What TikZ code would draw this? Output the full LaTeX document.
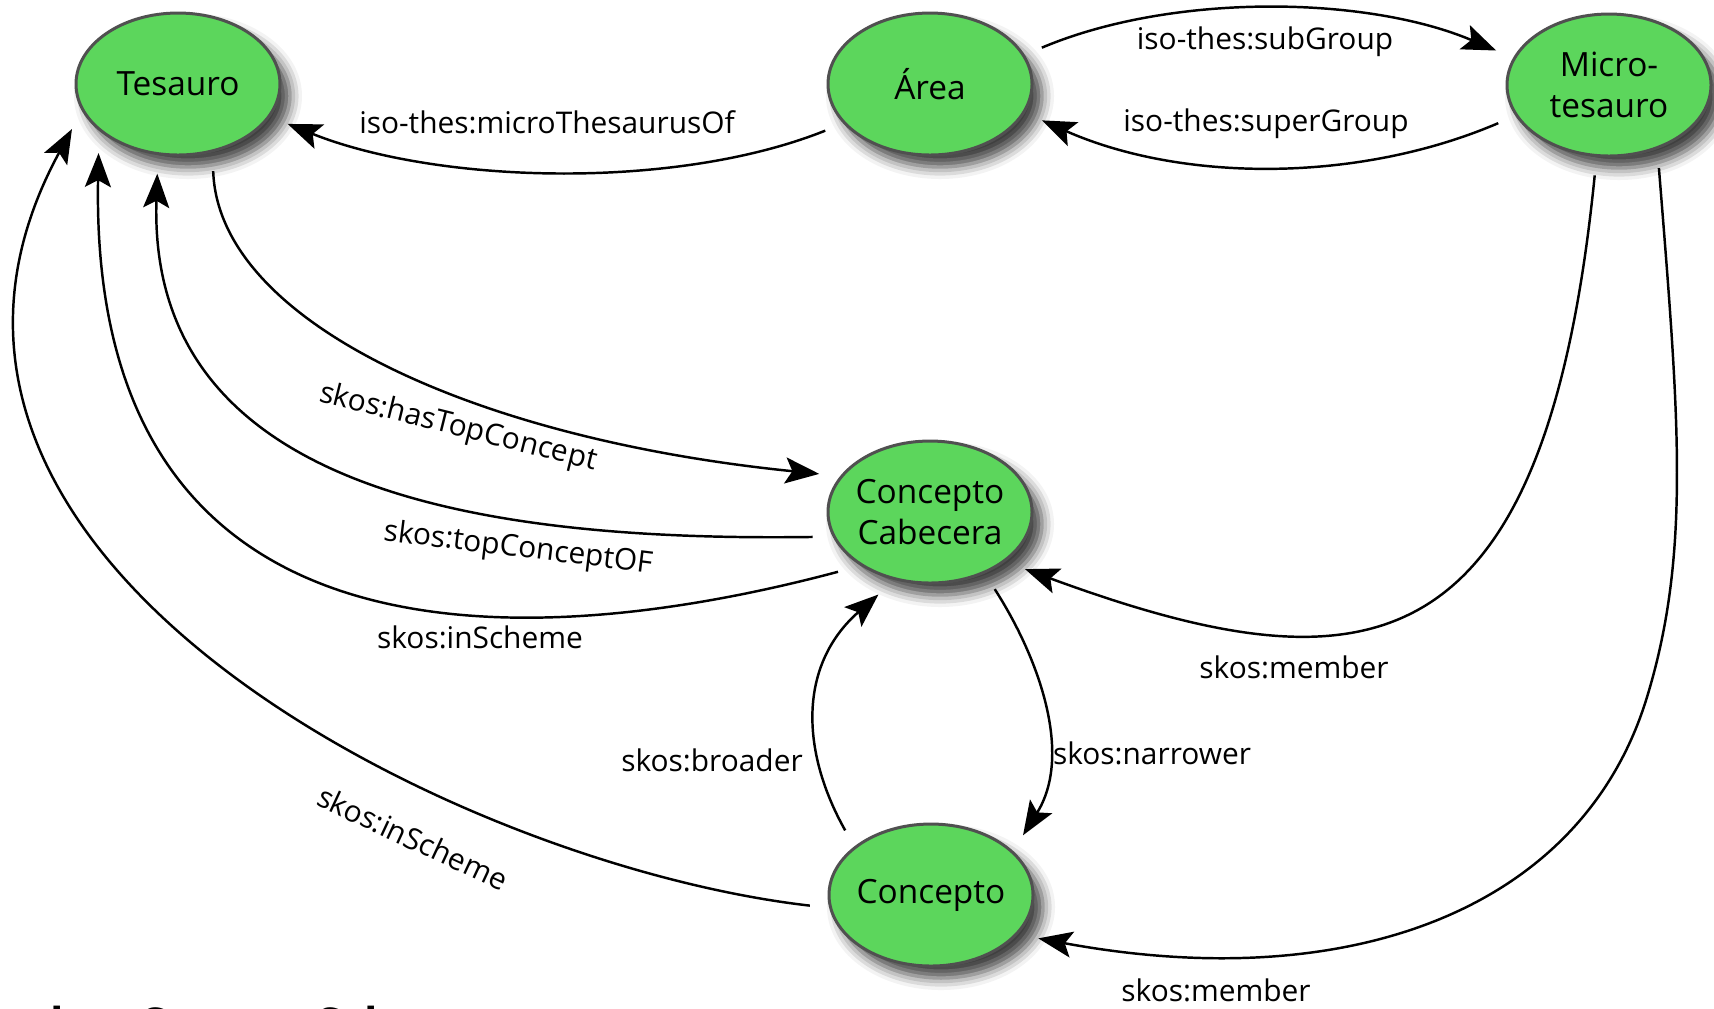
\documentclass[tikz,border=0pt]{standalone}
\usepackage{fontspec}
\setmainfont{Open Sans}
\usetikzlibrary{arrows.meta,shapes.geometric,shadows.blur}
\definecolor{conceptgreen}{RGB}{92,214,92}
\definecolor{conceptline}{RGB}{80,80,80}

\begin{document}
\begin{tikzpicture}[x=0.1mm,y=-0.1mm,
  concept/.style={ellipse,draw=conceptline,line width=0.3mm,fill=conceptgreen,
    minimum width=20.4mm,minimum height=14.2mm,inner xsep=-2mm,inner ysep=0pt,
    outer sep=2mm,align=center,font=\fontsize{9.5}{11.5}\selectfont,
    blur shadow={shadow xshift=1mm,shadow yshift=-1.2mm,shadow blur radius=1.2mm,shadow opacity=75}},
  rel/.style={line width=0.7pt,-{Stealth[length=3.4mm,width=2.6mm,inset=0.7mm]}},
  lbl/.style={inner sep=0pt,font=\fontsize{8.5}{10}\selectfont}]
\useasboundingbox (0,0) rectangle (1714,1008);

\node[concept] (tesauro) at (178,84) {Tesauro};
\node[concept] (area) at (930,84) {Área};
\node[concept] (micro) at (1609,85) {Micro-\\tesauro};
\node[concept] (cabecera) at (930,512) {Concepto\\Cabecera};
\node[concept] (concepto) at (931,895) {Concepto};

% iso-thes links
\draw[rel] (area.-156) .. controls +(-150,60) and +(150,60) .. (tesauro.-20);
\draw[rel] (area.18) .. controls +(130,-55) and +(-130,-55) .. (micro.163);
\draw[rel] (micro.-161) .. controls +(-140,60) and +(140,62) .. (area.-18);
\node[lbl] (l-micro) at (547,122) {iso-thes:microThesaurusOf};
\node[lbl] (l-sub) at (1265,42) {iso-thes:subGroup};
\node[lbl] (l-super) at (1266,124) {iso-thes:superGroup};

% top concepts
\draw[rel] (tesauro.-68) .. controls +(5,150) and +(-347,-35) .. (cabecera.161);
\draw[rel] (cabecera.-168) .. controls +(-350,5) and +(-10,310) .. (tesauro.-103);
\draw[rel] (cabecera.-147) .. controls +(-300,80) and +(-10,530) .. (tesauro.-139);
\node[lbl,rotate=-14] (l-hastop) at (458,428) {skos:hasTopConcept};
\node[lbl,rotate=-7] (l-topof) at (518,549) {skos:topConceptOF};
\node[lbl] (l-scheme1) at (480,637) {skos:inScheme};

% concepto
\draw[rel] (concepto.-175) .. controls +(-350,-40) and +(-234,430) .. (tesauro.-157);
\draw[rel] (concepto.143) .. controls +(-45,-80) and +(-80,70) .. (cabecera.-122);
\draw[rel] (cabecera.-50) .. controls +(45,70) and +(50,-80) .. (concepto.33);
\node[lbl,rotate=-25] (l-scheme2) at (413,838) {skos:inScheme};
\node[lbl] (l-broader) at (712,760) {skos:broader};
\node[lbl] (l-narrower) at (1152,753) {skos:narrower};

% members
\coordinate (bend) at (1647,697);
\draw[rel] (micro.-99) .. controls +(-50,500) and +(340,125) .. (cabecera.-31);
\draw[rel] (micro.-59) .. controls +(20,250) and +(44,-144) .. (bend)
  .. controls +(-64,211) and +(314,58) .. (concepto.-22);
\node[lbl] (l-member1) at (1294,667) {skos:member};
\node[lbl] (l-member2) at (1216,990) {skos:member};

\node[anchor=base west,inner sep=0pt,font=\bfseries\fontsize{12.5}{15}\selectfont] (scheme) at (28,1039) {skos:ConceptScheme}; % cut by the page edge
\end{tikzpicture}
\end{document}
